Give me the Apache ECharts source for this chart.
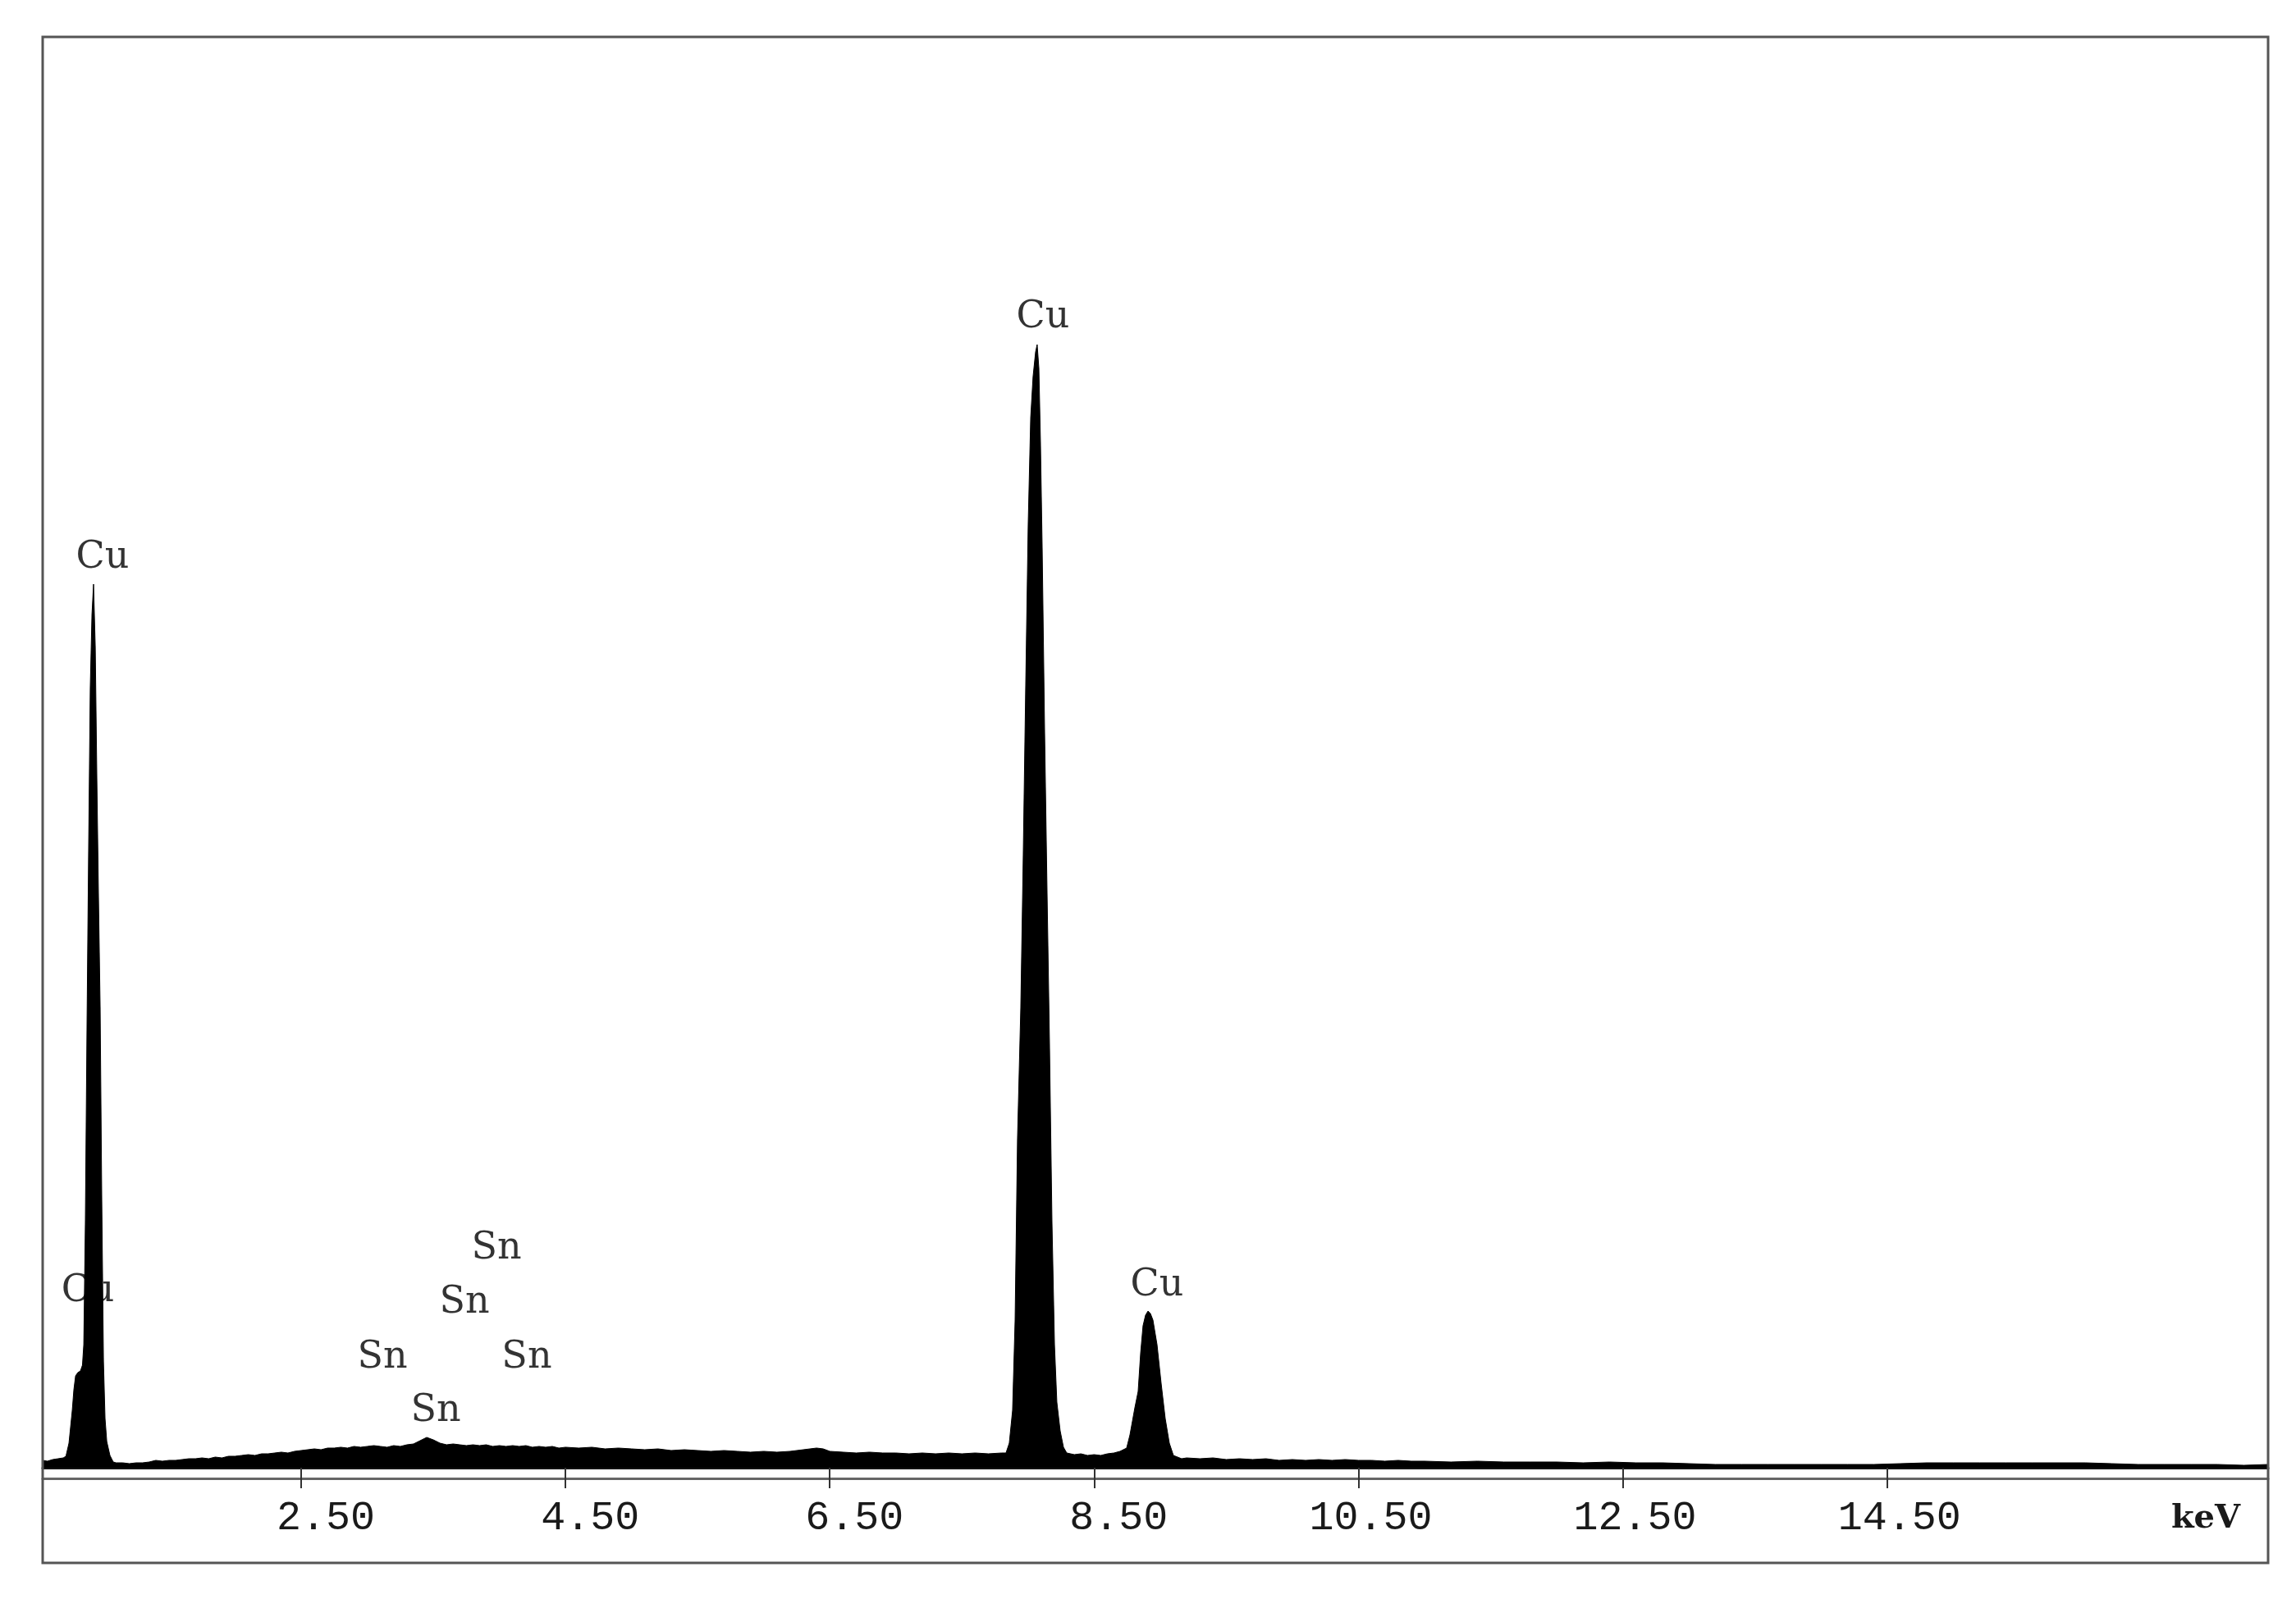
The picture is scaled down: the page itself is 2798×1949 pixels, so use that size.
<!DOCTYPE html>
<html>
<head>
<meta charset="utf-8">
<style>
html,body{margin:0;padding:0;background:#fff;}
#chart{width:2798px;height:1949px;}
</style>
<script src="https://cdn.jsdelivr.net/npm/echarts@6/dist/echarts.min.js"></script>
</head>
<body>
<div id="chart"></div>
<script>
// EDS spectrum, energy in keV, counts (arbitrary units)
const spectrumEnergy = [
0.544,0.58,0.62,0.66,0.70,0.72,0.743,0.768,0.78,0.793,0.81,0.83,0.845,0.855,0.867,0.880,0.892,0.904,0.917,0.929,0.942,0.954,0.966,0.979,0.991,1.004,1.016,1.029,1.053,1.078,
1.1,1.15,1.2,1.25,1.3,1.35,1.4,1.45,1.5,1.55,1.6,1.65,1.7,1.75,1.8,1.85,1.9,1.95,2.0,2.05,2.1,2.15,2.2,2.25,2.3,2.35,2.4,2.45,2.5,2.55,2.6,2.65,2.7,2.75,2.8,2.85,2.9,2.95,
3.0,3.05,3.1,3.15,3.2,3.25,3.3,3.35,3.4,3.45,3.5,3.55,3.6,3.65,3.7,3.75,3.8,3.85,3.9,3.95,4.0,4.05,4.1,4.15,4.2,4.25,4.3,4.35,4.4,4.45,4.5,4.6,4.7,4.8,4.9,
5.0,5.1,5.2,5.3,5.4,5.5,5.6,5.7,5.8,5.9,6.0,6.1,6.2,6.3,6.4,6.45,6.5,6.6,6.7,6.8,6.9,7.0,7.1,7.2,7.3,7.4,7.5,7.6,7.7,7.8,
7.833,7.858,7.883,7.902,7.920,7.945,7.964,7.982,8.001,8.020,8.038,8.057,8.069,8.082,8.094,8.107,8.125,8.144,8.162,8.181,8.200,8.218,8.243,8.268,8.293,
8.35,8.4,8.45,8.5,8.55,8.6,8.65,8.696,8.746,8.771,8.808,8.833,8.852,8.870,8.889,8.908,8.926,8.945,8.976,9.007,9.038,9.069,9.100,9.162,
9.2,9.3,9.4,9.5,9.6,9.7,9.8,9.9,10.0,10.1,10.2,10.3,10.4,10.5,10.6,10.7,10.8,10.9,11.0,11.2,11.4,11.6,11.8,12.0,12.2,12.4,12.6,12.8,
13.0,13.2,13.4,13.6,13.8,14.0,14.2,14.4,14.6,14.8,15.0,15.2,15.4,15.6,15.8,16.0,16.2,16.4,16.6,16.8,17.0,17.2,17.383
];
const spectrumCounts = [
9,8,10,11,12,14,30,70,95,112,116,118,125,150,300,550,760,950,1040,1077,1000,840,700,560,330,130,60,32,15,7,
6,6,5,6,6,7,9,8,9,9,10,11,11,12,11,13,12,14,14,15,16,15,17,17,18,19,18,20,21,22,23,22,24,24,25,24,26,25,
26,27,26,25,27,26,28,29,33,37,34,30,28,29,28,27,28,27,28,26,27,26,27,26,27,25,26,25,26,24,25,24,25,23,24,
23,22,23,21,22,21,20,21,20,19,20,19,20,22,24,23,20,19,18,19,18,18,17,18,17,18,17,18,17,18,
18,30,70,180,400,560,750,950,1150,1280,1330,1360,1369,1340,1250,1120,900,700,520,300,150,80,45,25,18,
16,17,15,16,15,17,18,20,24,40,73,93,140,173,186,191,188,180,150,103,60,30,15,11,
12,11,12,10,11,10,11,9,10,9,10,9,10,9,9,8,9,8,8,7,8,7,7,7,6,7,6,6,
5,4,4,4,4,4,4,4,5,6,6,6,6,6,6,6,5,4,4,4,4,3,4
];

// Peak annotations
const peakLabelNames    = ['Cu','Cu','Cu','Cu','Sn','Sn','Sn','Sn','Sn'];
const peakLabelEnergies = [0.997,0.886,8.113,8.976,3.978,3.736,3.115,4.207,3.518];
const peakLabelHeights  = [1109,215,1402,222,267,201,134,134,69];

// Axis
const tickValues = [2.5,4.5,6.5,8.5,10.5,12.5,14.5];
const axisUnit = 'keV';
const energyMin = 0.544, energyMax = 17.383;
const countsMax = 1744;

const spectrumData = spectrumEnergy.map((e,i)=>[e, spectrumCounts[i]]);
const labelData = peakLabelEnergies.map((e,i)=>[e, peakLabelHeights[i], peakLabelNames[i]]);

function tickText(v){
  let s = v.toFixed(2);
  while (s.length < 6) s = '\u00a0' + s;
  return s;
}

const chart = echarts.init(document.getElementById('chart'), null, {renderer:'canvas'});
chart.setOption({
  animation:false,
  backgroundColor:'#ffffff',
  grid:{left:52, right:34, top:45, bottom:160, containLabel:false},
  xAxis:[{
    type:'value', min:energyMin, max:energyMax, position:'bottom',
    axisLine:{show:true, lineStyle:{color:'#111', width:3}},
    axisTick:{show:true, customValues:tickValues, length:25, lineStyle:{color:'#333', width:2}},
    axisLabel:{show:true, customValues:tickValues, formatter:tickText,
      fontFamily:'Liberation Mono', fontSize:50, color:'#1a1a1a',
      align:'center', verticalAlign:'middle', margin:62},
    splitLine:{show:false}
  },{
    type:'value', min:energyMin, max:energyMax, position:'bottom', offset:13,
    axisLine:{show:true, lineStyle:{color:'#666', width:3}},
    axisTick:{show:false}, axisLabel:{show:false}, splitLine:{show:false}
  }],
  yAxis:{type:'value', min:0, max:countsMax, show:false, splitLine:{show:false}},
  series:[{
    type:'line', data:spectrumData, xAxisIndex:0, symbol:'none', z:3,
    lineStyle:{color:'#000', width:1}, areaStyle:{color:'#000', opacity:1},
    silent:true
  },{
    type:'scatter', data:labelData, xAxisIndex:0, z:1, symbolSize:1,
    itemStyle:{color:'rgba(0,0,0,0)'},
    label:{show:true, position:'inside', formatter:p=>p.data[2],
      fontFamily:'DejaVu Serif', fontSize:46, color:'#000'},
    silent:true
  }],
  graphic:[
    {type:'rect', shape:{x:52,y:45,width:2712,height:1860}, style:{fill:'none', stroke:'#555', lineWidth:3}, silent:true, z:10},
    {type:'text', x:2688, y:1852, style:{text:axisUnit, font:'bold 40px "DejaVu Serif"', fill:'#1a1a1a', align:'center', verticalAlign:'middle'}, silent:true, z:10}
  ]
});
</script>
</body>
</html>
